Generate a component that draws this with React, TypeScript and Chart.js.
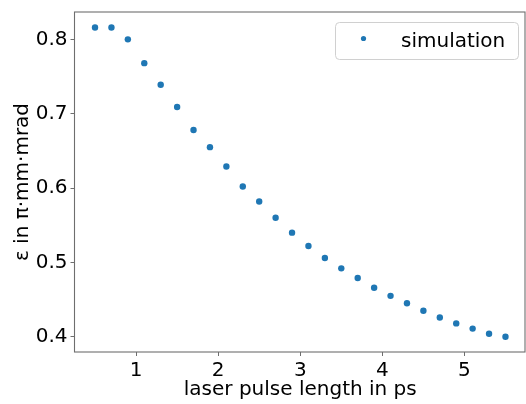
import React, { useEffect, useRef } from "react";
import { Chart, registerables } from "chart.js";

Chart.register(...registerables);

const pulseLengths = [0.5, 0.7, 0.9, 1.1, 1.3, 1.5, 1.7, 1.9, 2.1, 2.3, 2.5, 2.7, 2.9, 3.1, 3.3, 3.5, 3.7, 3.9, 4.1, 4.3, 4.5, 4.7, 4.9, 5.1, 5.3, 5.5];
const emittance = [0.816, 0.816, 0.800, 0.768, 0.739, 0.709, 0.678, 0.655, 0.629, 0.602, 0.582, 0.560, 0.540, 0.522, 0.506, 0.492, 0.479, 0.466, 0.455, 0.445, 0.435, 0.426, 0.418, 0.411, 0.404, 0.400];
const xTicks = [1, 2, 3, 4, 5];
const yTicks = [0.4, 0.5, 0.6, 0.7, 0.8];
const seriesLabel = "simulation";
const xTitle = "laser pulse length in ps";
const yTitle = "ε in π·mm·mrad";

const FONT = "'DejaVu Sans', sans-serif";
const FS = 20;
const BLUE = "#1f77b4";
const SPINE = "#6e6e6e";

const framePlugin = {
  id: "frame",
  beforeDatasetsDraw(chart: any) {
    const { ctx, chartArea: a } = chart;
    ctx.save();
    ctx.strokeStyle = SPINE;
    ctx.lineWidth = 1.1;
    ctx.strokeRect(a.left, a.top, a.right - a.left - 1, a.bottom - a.top);
    ctx.restore();
  },
};

const legendPlugin = {
  id: "mplLegend",
  afterDatasetsDraw(chart: any) {
    const { ctx, chartArea: a } = chart;
    const ds = chart.data.datasets[0];
    const x = a.right - 190.5;
    const y = a.top + 10.5;
    const w = 183;
    const h = 37;
    ctx.save();
    ctx.beginPath();
    ctx.roundRect(x, y, w, h, 4);
    ctx.fillStyle = "rgba(255,255,255,0.8)";
    ctx.fill();
    ctx.strokeStyle = "#d0d0d0";
    ctx.lineWidth = 1;
    ctx.stroke();
    ctx.beginPath();
    ctx.arc(x + 28, y + 16, 2.6, 0, Math.PI * 2);
    ctx.fillStyle = ds.backgroundColor;
    ctx.fill();
    ctx.fillStyle = "#000";
    ctx.font = `${FS}px ${FONT}`;
    ctx.textBaseline = "alphabetic";
    ctx.textAlign = "left";
    ctx.fillText(ds.label, x + 65.5, y + 24.5);
    ctx.restore();
  },
};

export default function App() {
  const ref = useRef<HTMLCanvasElement | null>(null);
  useEffect(() => {
    document.body.style.margin = "0";
    const chart = new Chart(ref.current as HTMLCanvasElement, {
      type: "scatter",
      data: {
        datasets: [
          {
            label: seriesLabel,
            data: pulseLengths.map((x, i) => ({ x, y: emittance[i] })),
            backgroundColor: BLUE,
            borderWidth: 0,
            pointRadius: 3.2,
          },
        ],
      },
      options: {
        animation: false,
        responsive: false,
        layout: { autoPadding: false, padding: { top: 12, right: 0, left: 0, bottom: 0 } },
        plugins: { legend: { display: false }, tooltip: { enabled: false } },
        scales: {
          x: {
            type: "linear",
            min: 0.25,
            max: 5.75,
            afterBuildTicks: (s: any) => {
              s.ticks = xTicks.map((v) => ({ value: v }));
            },
            afterFit: (s: any) => {
              s.height = 52;
              s.paddingLeft = 0;
              s.paddingRight = 0;
            },
            ticks: {
              color: "#000",
              font: { family: FONT, size: FS },
              padding: 2.5,
              maxRotation: 0,
              callback: (v: any) => String(v),
            },
            grid: { drawOnChartArea: false, drawTicks: true, tickLength: 4, color: SPINE, lineWidth: 1 },
            border: { display: false },
            title: {
              display: true,
              text: xTitle,
              color: "#000",
              font: { family: FONT, size: FS },
              padding: { top: 0, bottom: 2 },
            },
          },
          y: {
            type: "linear",
            min: 0.3795,
            max: 0.8368,
            afterBuildTicks: (s: any) => {
              s.ticks = yTicks.map((v) => ({ value: v }));
            },
            afterFit: (s: any) => {
              s.width = 74.5;
              s.paddingTop = 0;
              s.paddingBottom = 0;
            },
            ticks: {
              color: "#000",
              font: { family: FONT, size: FS },
              padding: 3,
              callback: (v: any) => Number(v).toFixed(1),
            },
            grid: { drawOnChartArea: false, drawTicks: true, tickLength: 4, color: SPINE, lineWidth: 1 },
            border: { display: false },
            title: {
              display: true,
              text: yTitle,
              color: "#000",
              font: { family: FONT, size: FS },
              padding: { top: 11, bottom: 0 },
            },
          },
        },
      },
      plugins: [framePlugin, legendPlugin],
    });
    return () => chart.destroy();
  }, []);
  return (
    <div style={{ position: "absolute", left: 0, top: 0, width: 526, height: 404 }}>
      <canvas ref={ref} width={526} height={404} style={{ width: 526, height: 404, display: "block" }} />
    </div>
  );
}
